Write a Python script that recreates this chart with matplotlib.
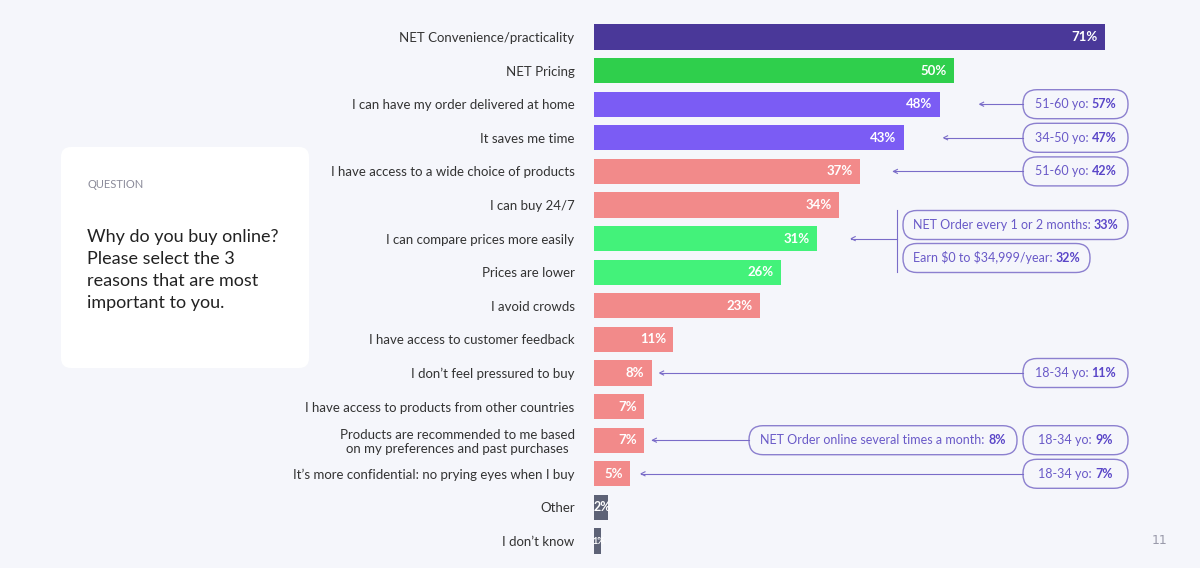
import matplotlib
matplotlib.use("Agg")
import matplotlib.pyplot as plt
from matplotlib.patches import FancyBboxPatch

categories = [
    "NET Convenience/practicality", "NET Pricing", "I can have my order delivered at home",
    "It saves me time", "I have access to a wide choice of products", "I can buy 24/7",
    "I can compare prices more easily", "Prices are lower", "I avoid crowds",
    "I have access to customer feedback", "I don\u2019t feel pressured to buy",
    "I have access to products from other countries",
    "Products are recommended to me based\non my preferences and past purchases",
    "It\u2019s more confidential: no prying eyes when I buy", "Other", "I don\u2019t know",
]
values = [71, 50, 48, 43, 37, 34, 31, 26, 23, 11, 8, 7, 7, 5, 2, 1]
groups = ["net", "net_price", "conv", "conv", "other", "other", "price", "price", "other",
          "other", "other", "other", "other", "other", "na", "na"]
colors = {"net": "#4a3899", "net_price": "#2fcf4c", "conv": "#7b5cf4", "price": "#43f27a",
          "other": "#f28a8a", "na": "#5d6276"}

# callouts: (row, label, value, box left px, box right px, gap from bar end to arrow tip)
callouts = [
    (2, "51-60 yo: ", "57%", 1023, 1128, 40),
    (3, "34-50 yo: ", "47%", 1023, 1128, 40),
    (4, "51-60 yo: ", "42%", 1023, 1128, 33),
    (10, "18-34 yo: ", "11%", 1023, 1128, 8),
    (12, "18-34 yo: ", "9%", 1023, 1128, None),
    (12, "NET Order online several times a month: ", "8%", 749, 1017, 8),
    (13, "18-34 yo: ", "7%", 1023, 1128, 11),
]

W, H = 1200, 568
X0 = 594
fig = plt.figure(figsize=(W / 100, H / 100), dpi=100)
fig.patch.set_facecolor("#f5f6fb")

row0, pitch = 37, 33.6
def rowpx(i):
    return row0 + pitch * i

scale = 7.2
FONT = "Lato"

# overlay axes in pixel coordinates for card and callouts
ov = fig.add_axes([0, 0, 1, 1], zorder=0)
ov.set_xlim(0, W)
ov.set_ylim(H, 0)
ov.axis("off")
ov.add_patch(FancyBboxPatch((61, 147), 248, 221, boxstyle="round,pad=0,rounding_size=10",
                            facecolor="white", edgecolor="none"))
ov.text(87, 185, "QUESTION", fontsize=8, color="#8a8a99", va="center", family=FONT)
ov.text(87, 229, "Why do you buy online?\nPlease select the 3\nreasons that are most\nimportant to you.",
        fontsize=13, color="#222222", va="top", family=FONT, linespacing=1.45)
ov.text(1160, 541, "11", fontsize=9, color="#9a9aaa", ha="center", va="center")

ax = fig.add_axes([X0 / W, 0, 1 - X0 / W, 1], zorder=1)
ax.set_facecolor("none")
ax.set_xlim(0, (W - X0) / scale)
ax.set_ylim((H - row0) / pitch, -row0 / pitch)
ys = list(range(len(categories)))
ax.barh(ys, values, height=0.75, color=[colors[g] for g in groups])
for y, v in zip(ys, values):
    if v >= 3:
        ax.text(v - 1.0, y, f"{v}%", ha="right", va="center", color="white",
                fontsize=9.5, fontweight="bold", family=FONT)
    else:
        ax.text(v / 2 + 0.2, y, f"{v}%", ha="center", va="center", color="white",
                fontsize=9 if v > 1 else 6.5, fontweight="bold", family=FONT)
ax.set_yticks(ys)
ax.set_yticklabels(categories, fontsize=9.5, color="#333333", family=FONT, multialignment="center")
ax.tick_params(axis="y", length=0, pad=14)
ax.set_xticks([])
for s in ax.spines.values():
    s.set_visible(False)

top = fig.add_axes([0, 0, 1, 1], zorder=2)
top.set_xlim(0, W)
top.set_ylim(H, 0)
top.axis("off")
top.patch.set_alpha(0)

renderer = fig.canvas.get_renderer()
line_c = "#7a6cc8"

def callout(yc, label, val, x0, x1, h=29):
    top.add_patch(FancyBboxPatch((x0, yc - h / 2), x1 - x0, h,
                                 boxstyle="round,pad=0,rounding_size=14",
                                 facecolor="none", edgecolor="#8c80cf", lw=1))
    t1 = top.text(0, yc, label, fontsize=9, color="#6a5ac8", va="center", family=FONT)
    t2 = top.text(0, yc, val, fontsize=9, color="#5a46c8", va="center", family=FONT,
                  fontweight="bold")
    w1 = t1.get_window_extent(renderer).width
    w2 = t2.get_window_extent(renderer).width
    start = (x0 + x1) / 2 - (w1 + w2) / 2
    t1.set_x(start)
    t2.set_x(start + w1)

def arrow(yc, x_from, x_to):
    top.plot([x_from, x_to], [yc, yc], color=line_c, lw=0.8)
    top.plot([x_to + 4, x_to, x_to + 4], [yc - 2, yc, yc + 2], color=line_c, lw=0.8)

for row, label, val, x0, x1, gap in callouts:
    yc = rowpx(row)
    callout(yc, label, val, x0, x1)
    if gap is not None:
        vi = values[row]
        arrow(yc, x0, X0 + vi * scale + gap)

# grouped callout for compare prices row
callout(225, "NET Order every 1 or 2 months: ", "33%", 903, 1128)
callout(258, "Earn \\$0 to \\$34,999/year: ", "32%", 903, 1090)
top.plot([897, 897], [210, 272], color=line_c, lw=0.8)
arrow(rowpx(6), 897, X0 + values[6] * scale + 34)

fig.savefig("out.png", dpi=100, facecolor=fig.get_facecolor())
